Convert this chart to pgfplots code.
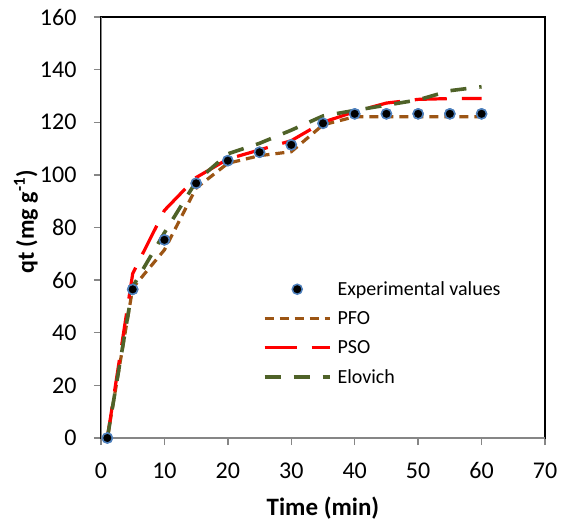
\documentclass[border=0pt]{standalone}
\usepackage{fontspec}
\setmainfont{Carlito}
\usepackage{pgfplots}
\pgfplotsset{compat=1.18}
\definecolor{pfo}{HTML}{9C5514}
\definecolor{pso}{HTML}{FF0000}
\definecolor{elo}{HTML}{4F6228}
\definecolor{mkedge}{HTML}{4F81BD}
\definecolor{axgray}{HTML}{868686}
\begin{document}
\begin{tikzpicture}
\begin{axis}[
  at={(0pt,0pt)}, anchor=south west,
  scale only axis, width=444pt, height=421pt,
  xmin=0, xmax=70, ymin=0, ymax=160,
  xtick={0,10,...,70}, ytick={0,20,...,160},
  xtick pos=left, ytick pos=left,
  tick align=outside, major tick length=7pt,
  tick style={color=axgray, line width=1.3pt},
  axis line style={black, line width=1.5pt},
  /pgf/number format/assume math mode=true,
  ticklabel style={font=\fontsize{24}{27}\selectfont},
  yticklabel style={xshift=-14pt},
  xticklabel style={yshift=-14pt},
  every axis x label/.style={at={(axis description cs:0.5,0)}, anchor=base, yshift=-77pt},
  every axis y label/.style={at={([xshift=-75pt]axis description cs:0,0.513)}, rotate=90, anchor=center},
  xlabel={\fontsize{25}{28}\selectfont\bfseries Time (min)},
  ylabel={\fontsize{24}{27}\selectfont\bfseries qt (mg g\textsuperscript{-1})},
  legend style={draw=none, fill=none, at={(axis cs:25.5,60.3)}, anchor=north west,
    font=\fontsize{20}{24}\selectfont, row sep=10.5pt, legend cell align=left,
    inner sep=0pt},
  legend image code/.code={\draw[mark repeat=2,mark phase=2,#1] plot coordinates {(0pt,0pt) (32.5pt,0pt) (65pt,0pt)};\path (69pt,0pt);},
]
\addplot[only marks, mark=*, mark size=5pt, mark options={fill=black, draw=mkedge, line width=1.5pt}]
  coordinates {(1,0) (5,56.5) (10,75.3) (15,96.8) (20,105.4) (25,108.6) (30,111.4) (35,119.6) (40,123.2) (45,123.2) (50,123.2) (55,123.2) (60,123.2)};
\addlegendentry{Experimental values}
\addplot[pfo, line width=3.2pt, dash pattern=on 9pt off 6pt, no marks]
  coordinates {(1,0) (5,57) (10,71.5) (15,95) (20,104.4) (25,107.3) (30,108.8) (35,119) (40,122.1) (45,122.1) (50,122.1) (55,122.1) (60,122.1)};
\addlegendentry{PFO}
\addplot[pso, line width=3.2pt, dash pattern=on 32pt off 15pt, no marks]
  coordinates {(1,0) (5,62.5) (10,86.5) (15,99) (20,106) (25,109.5) (30,113) (35,120) (40,124) (45,127.3) (50,128.7) (55,129) (60,129)};
\addlegendentry{PSO}
\addplot[elo, line width=3.6pt, dash pattern=on 16pt off 13pt, no marks]
  coordinates {(1,0) (5,57.5) (10,78) (15,97.5) (20,108) (25,112) (30,117) (35,122.4) (40,124.5) (45,126.5) (50,128.5) (55,132) (60,133.5)};
\addlegendentry{Elovich}
\addplot[only marks, mark=*, mark size=5pt, mark options={fill=black, draw=mkedge, line width=1.5pt}, forget plot]
  coordinates {(1,0) (5,56.5) (10,75.3) (15,96.8) (20,105.4) (25,108.6) (30,111.4) (35,119.6) (40,123.2) (45,123.2) (50,123.2) (55,123.2) (60,123.2)};
\draw[axgray, line width=1.8pt] (rel axis cs:0,1) -- (rel axis cs:0,0) -- (rel axis cs:1,0);
\end{axis}
\pgfresetboundingbox
\path[use as bounding box] (-101pt,-85pt) rectangle (460pt,438pt);
\end{tikzpicture}
\end{document}
